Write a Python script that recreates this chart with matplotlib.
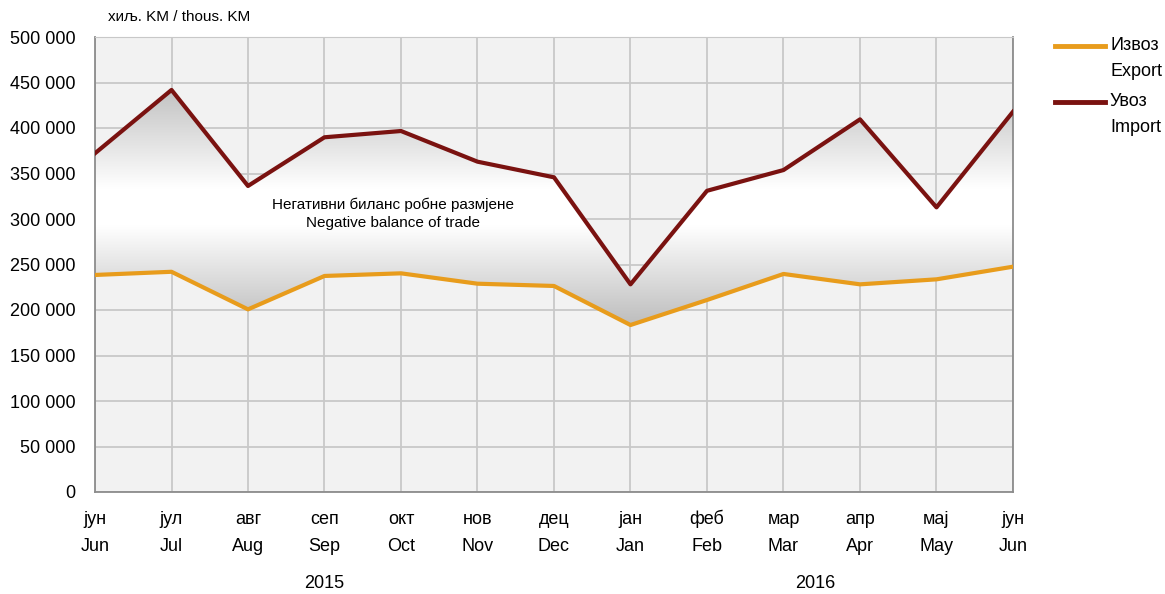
import numpy as np
import matplotlib
matplotlib.use('Agg')
import matplotlib.pyplot as plt
from matplotlib.colors import LinearSegmentedColormap
from matplotlib.lines import Line2D

plt.rcParams['font.family'] = ['Liberation Sans', 'DejaVu Sans']

months_sr = ['јун', 'јул', 'авг', 'сеп', 'окт', 'нов', 'дец',
             'јан', 'феб', 'мар', 'апр', 'мај', 'јун']
months_en = ['Jun', 'Jul', 'Aug', 'Sep', 'Oct', 'Nov', 'Dec',
             'Jan', 'Feb', 'Mar', 'Apr', 'May', 'Jun']
export_vals = [238.5, 242.0, 200.7, 237.4, 240.3, 228.9, 226.4,
               183.5, 211.0, 239.6, 228.2, 233.7, 247.6]
import_vals = [372.2, 441.8, 336.3, 389.8, 396.7, 363.0, 345.8,
               228.2, 331.0, 353.8, 409.5, 312.8, 417.9]
years = ['2015', '2016']
year_pos = [3.0, 9.41]
yticks = list(range(0, 500001, 50000))
legend_labels = [('Извоз', 'Export'), ('Увоз', 'Import')]

EXP_COL = '#e89c1c'
IMP_COL = '#7a1210'

export_vals = np.array(export_vals) * 1000
import_vals = np.array(import_vals) * 1000
x = np.arange(len(months_en))

W, H = 1165, 594
fig = plt.figure(figsize=(W / 100, H / 100), dpi=100)
ax = fig.add_axes([95 / W, 1 - 492 / H, (1013 - 95) / W, (492 - 37) / H])
ax.set_facecolor('#f2f2f2')

# gradient fill between the two series
lo, hi = export_vals.min(), import_vals.max()
cmap = LinearSegmentedColormap.from_list(
    'grad', [(0.0, '#bdbdbd'), (0.42, '#ffffff'), (0.58, '#ffffff'), (1.0, '#c2c2c2')])
grad = np.linspace(0, 1, 256).reshape(-1, 1)
poly = ax.fill_between(x, export_vals, import_vals, facecolor='none', edgecolor='none')
im = ax.imshow(grad, cmap=cmap, aspect='auto', origin='lower',
               extent=[x[0], x[-1], lo, hi], zorder=1.5, interpolation='bilinear')
im.set_clip_path(poly.get_paths()[0], transform=ax.transData)

ax.plot(x, export_vals, color=EXP_COL, lw=3.0, zorder=3)
ax.plot(x, import_vals, color=IMP_COL, lw=3.0, zorder=3)

ax.set_xlim(0, 12)
ax.set_ylim(0, 500000)
ax.set_yticks(yticks)
ax.set_yticklabels([f'{v:,}'.replace(',', ' ') for v in yticks], fontsize=13)
ax.set_xticks(x)
# baseline alignment keeps "феб" level with the others
ax.set_xticklabels([f'{s}\n{e}' for s, e in zip(months_sr, months_en)],
                   fontsize=13, linespacing=1.75, va='baseline')
ax.tick_params(length=0)
ax.tick_params(axis='x', pad=42.5)
ax.tick_params(axis='y', pad=14)
ax.grid(True, color='#c8c8c8', lw=1.3)
ax.set_axisbelow(True)
for side in ['left', 'bottom', 'right']:
    ax.spines[side].set_color('#8c8c8c')
    ax.spines[side].set_linewidth(1.3)
ax.spines['top'].set_color('#c8c8c8')

for yr, pos in zip(years, year_pos):
    ax.text(pos, -0.2, yr, transform=ax.get_xaxis_transform(),
            ha='center', va='center', fontsize=13)

fig.text(108 / W, 1 - 17 / H, 'хиљ. KM / thous. KM', fontsize=11, va='center', ha='left')
ax.text(3.9, 306000, 'Негативни биланс робне размјене\nNegative balance of trade',
        ha='center', va='center', fontsize=11, linespacing=1.4, zorder=4)

# legend drawn by hand: line level with the first text row
for (sr, en), col, y0 in zip(legend_labels, [EXP_COL, IMP_COL], [46, 102]):
    fig.add_artist(Line2D([1055 / W, 1105 / W], [1 - y0 / H, 1 - y0 / H],
                          color=col, lw=3.5, transform=fig.transFigure))
    fig.text(1110 / W, 1 - y0 / H, sr, fontsize=13, va='center', ha='left')
    fig.text(1110 / W, 1 - (y0 + 25) / H, en, fontsize=13, va='center', ha='left')

fig.savefig('out.png', dpi=100)
